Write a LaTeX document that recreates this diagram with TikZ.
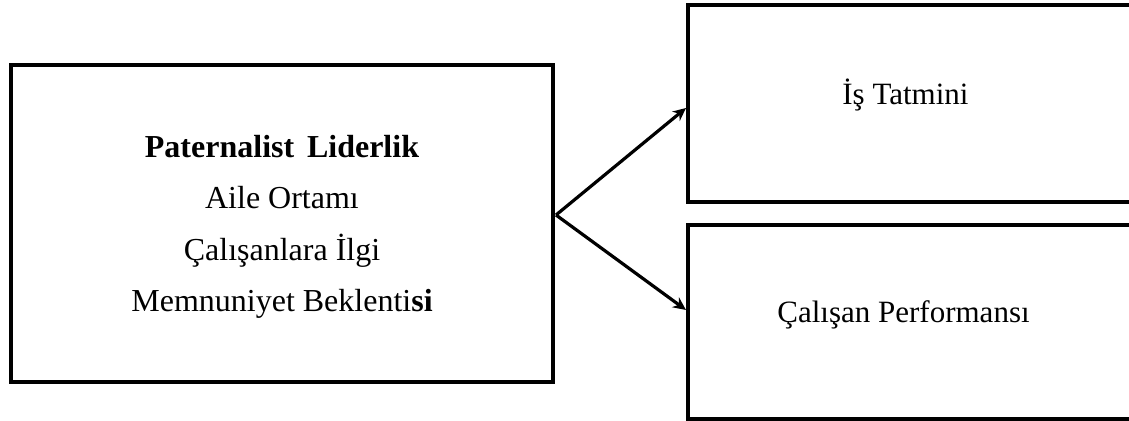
\documentclass[tikz,border=0pt]{standalone}
\usepackage{fontspec}
\setmainfont{Liberation Serif}
\usetikzlibrary{arrows.meta,calc}
\begin{document}
\begin{tikzpicture}[x=0.5pt,y=-0.5pt,
  box/.style={draw=black,line width=2pt,rectangle,inner sep=0pt},
  lbl/.style={inner sep=0pt,font=\fontsize{15.5}{18}\selectfont},
  arr/.style={line width=1.6pt,-{Stealth[length=6.5pt,width=6pt]}}]
\useasboundingbox (0,0) rectangle (1129,421);
\clip (0,0) rectangle (1129,421);
\node[box,minimum width=271pt,minimum height=158.5pt,align=center,
      font=\fontsize{16}{25.75}\selectfont,text depth=0pt] (L) at (282,223.5)
  {\textbf{Paternalist\hspace{0.15em} Liderlik}\\Aile Ortamı\\Çalışanlara İlgi\\Memnuniyet Beklenti\textbf{si}};
\node[box,minimum width=236pt,minimum height=98.5pt] (T) at (924,103.5) {};
\node[box,minimum width=236pt,minimum height=97pt] (B) at (924,322) {};
\node[lbl,anchor=base west] (tt) at (842,105) {İş Tatmini};
\node[lbl,anchor=base west] (bt) at (777,323) {Çalışan Performansı};
\coordinate (fork) at (556,215);
\coordinate (tipT) at (T.west |- 0,108);
\coordinate (tipB) at (B.west |- 0,310);
\draw[arr] (fork) -- (tipT);
\draw[arr] (fork) -- (tipB);
\end{tikzpicture}
\end{document}
